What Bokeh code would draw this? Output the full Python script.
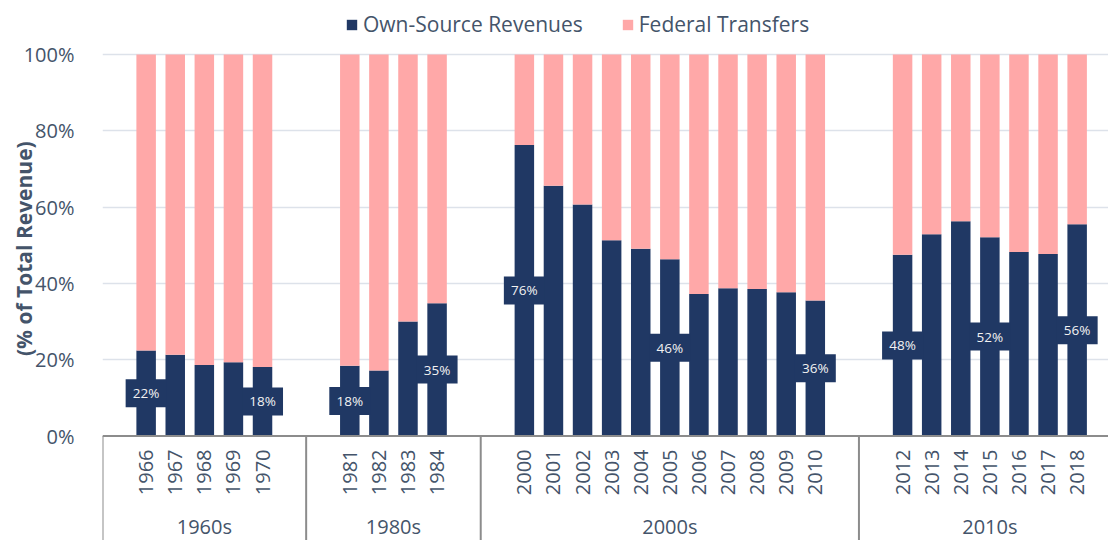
import math
from bokeh.plotting import figure
from bokeh.models import ColumnDataSource, Range1d, FixedTicker, PrintfTickFormatter
from bokeh.core.properties import value
from bokeh.embed import file_html
from bokeh.resources import INLINE

# ---------------- data ----------------
group_names = ["1960s", "1980s", "2000s", "2010s"]
years_1960s = ["1966", "1967", "1968", "1969", "1970"]
own_1960s = [22.4, 21.3, 18.6, 19.3, 18.1]
years_1980s = ["1981", "1982", "1983", "1984"]
own_1980s = [18.4, 17.2, 30.0, 34.8]
years_2000s = ["2000", "2001", "2002", "2003", "2004", "2005", "2006", "2007", "2008", "2009", "2010"]
own_2000s = [76.3, 65.6, 60.7, 51.3, 49.1, 46.3, 37.2, 38.7, 38.5, 37.7, 35.5]
years_2010s = ["2012", "2013", "2014", "2015", "2016", "2017", "2018"]
own_2010s = [47.5, 52.9, 56.3, 52.1, 48.2, 47.7, 55.5]
labelled_years = ["1966", "1970", "1981", "1984", "2000", "2005", "2010", "2012", "2015", "2018"]
series_names = ["Own-Source Revenues", "Federal Transfers"]
y_ticks = [0, 20, 40, 60, 80, 100]
y_title = "(% of Total Revenue)"

NAVY = "#203864"
PINK = "#FFA8A8"
TEXT = "#44546A"
LINE = "#8C8C8C"
GRID = "#DDE2EA"
FONT = "Open Sans"

groups = [(group_names[0], years_1960s, own_1960s),
          (group_names[1], years_1980s, own_1980s),
          (group_names[2], years_2000s, own_2000s),
          (group_names[3], years_2010s, own_2010s)]

# slot layout: one empty slot before, two empty slots between groups
xs, years, own = [], [], []
separators = []
group_centers = []
slot = 1
separators.append(slot - 1.5)
for name, ys, vals in groups:
    first = slot
    for yr, v in zip(ys, vals):
        xs.append(slot)
        years.append(yr)
        own.append(v)
        slot += 1
    group_centers.append((first + slot - 1) / 2)
    separators.append(slot - 1 + 1.5)
    slot += 2
separators = separators[:-1]
fed = [100 - v for v in own]

src = ColumnDataSource(dict(x=xs, own=own, fed=fed, year=years))

# ---------------- geometry (pixels -> data units) ----------------
W, H = 1108, 540
LEFT = 102
FRAME_W = W - LEFT
SLOT_PX = 29.094
Y0_PX = 435.5          # y pixel of 0%
UNIT_PX = 3.815        # pixels per percentage point

x_start = -0.5
x_end = x_start + FRAME_W / SLOT_PX
y_top = Y0_PX / UNIT_PX
y_bot = -(H - Y0_PX) / UNIT_PX

def py(pix_y):
    return (Y0_PX - pix_y) / UNIT_PX

p = figure(width=W, height=H, output_backend="svg", toolbar_location=None,
           x_range=Range1d(x_start, x_end), y_range=Range1d(y_bot, y_top),
           x_axis_location=None, min_border_left=LEFT, min_border_right=0,
           min_border_top=0, min_border_bottom=0)
p.outline_line_color = None
p.background_fill_color = "white"
p.border_fill_color = "white"
p.xgrid.visible = False
p.ygrid.ticker = FixedTicker(ticks=y_ticks[1:])
p.ygrid.grid_line_color = GRID
p.ygrid.grid_line_width = 1.5

ax = p.yaxis[0]
ax.ticker = FixedTicker(ticks=y_ticks)
ax.formatter = PrintfTickFormatter(format="%d%%")
ax.axis_line_color = None
ax.major_tick_line_color = None
ax.minor_tick_line_color = None
ax.major_label_standoff = 22
ax.major_label_text_font = FONT
ax.major_label_text_font_size = "20px"
ax.major_label_text_color = TEXT
ax.axis_label = "\u00a0" * 8 + y_title
ax.axis_label_text_font = FONT
ax.axis_label_text_font_size = "21px"
ax.axis_label_text_font_style = "bold"
ax.axis_label_text_color = TEXT
ax.axis_label_standoff = -17

# bars
p.vbar_stack(["own", "fed"], x="x", width=0.67, color=[NAVY, PINK], line_color=None,
             source=src, legend_label=series_names)

# category axis table
p.line(x=[x_start, x_end + 1], y=[0, 0], line_color=LINE, line_width=2)
p.segment(x0=separators, y0=[0] * len(separators), x1=separators,
          y1=[y_bot - 5] * len(separators), line_color=LINE, line_width=2)
p.text(x=xs, y=[py(449)] * len(xs), text=years, angle=math.pi / 2,
       text_align="right", text_baseline="middle", text_font=value(FONT),
       text_font_size="20px", text_color=TEXT)
p.text(x=group_centers, y=[py(526)] * len(group_centers), text=group_names,
       text_align="center", text_baseline="middle", text_font=value(FONT),
       text_font_size="20px", text_color=TEXT)

# data labels
lx, ly, lt = [], [], []
for x, yr, v in zip(xs, years, own):
    if yr in labelled_years:
        lx.append(x)
        ly.append(v / 2)
        lt.append(f"{int(v + 0.5)}%")
p.rect(x=lx, y=ly, width=41, height=28, width_units="screen", height_units="screen",
       fill_color=NAVY, line_color=None)
p.text(x=lx, y=ly, text=lt, text_align="center", text_baseline="middle",
       text_font=value(FONT), text_font_size="13.5px", text_color="#F2F2F2")

# legend
lg = p.legend[0]
lg.orientation = "horizontal"
lg.location = (243, 502)
lg.label_text_font = FONT
lg.label_text_font_size = "21px"
lg.label_text_color = TEXT
lg.glyph_width = 13
lg.glyph_height = 13
lg.label_standoff = 5
lg.spacing = 38
lg.padding = 0
lg.margin = 0
lg.border_line_color = None
lg.background_fill_alpha = 0

open("out.html", "w").write(file_html(p, INLINE))
